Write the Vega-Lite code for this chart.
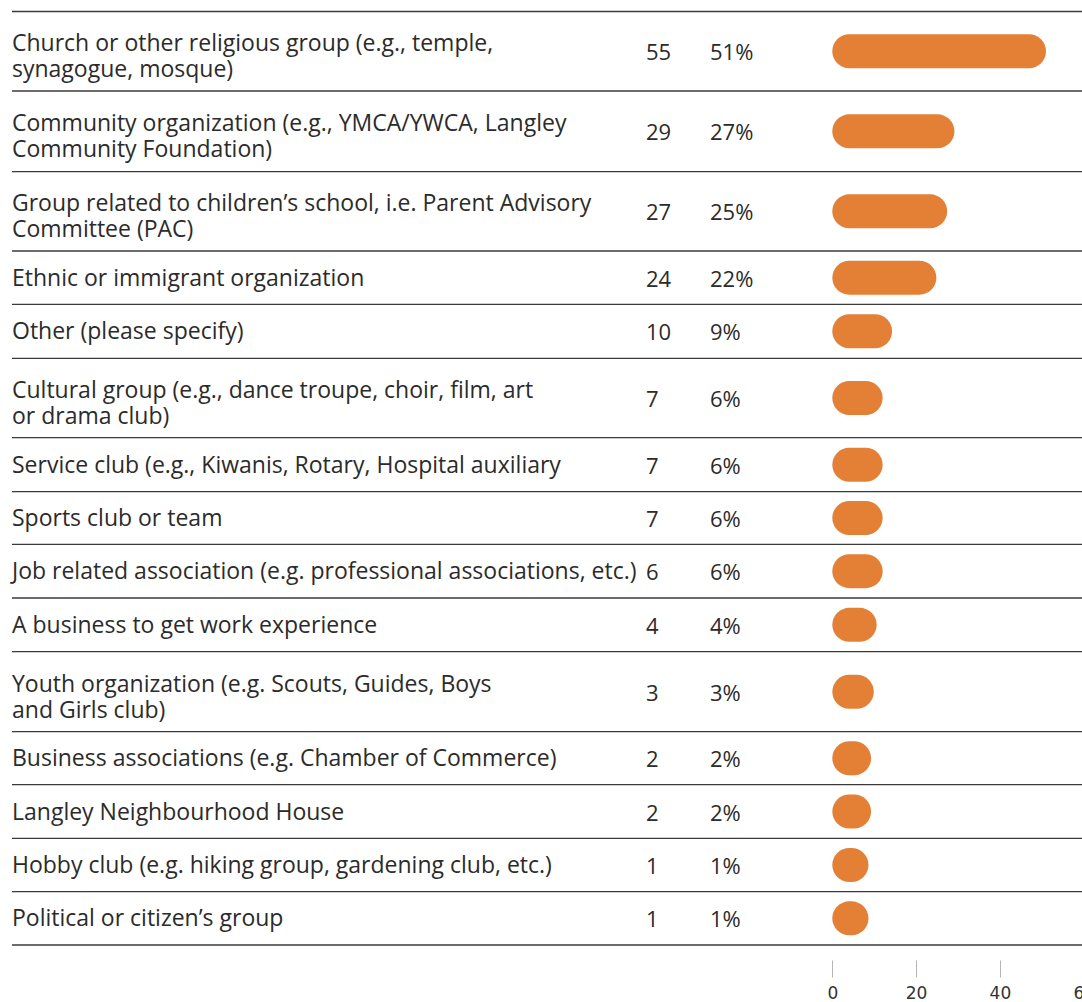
{
  "$schema": "https://vega.github.io/schema/vega-lite/v6.json",
  "width": 1070,
  "height": 960,
  "padding": {"left": 12, "top": 0, "right": 0, "bottom": 42},
  "autosize": {"type": "none"},
  "background": "white",
  "config": {"view": {"stroke": null}, "font": "Open Sans"},
  "data": {
    "values": [
      {"rank": 1, "label": "Church or other religious group (e.g., temple,\nsynagogue, mosque)", "count": 55, "share": 0.51},
      {"rank": 2, "label": "Community organization (e.g., YMCA/YWCA, Langley\nCommunity Foundation)", "count": 29, "share": 0.27},
      {"rank": 3, "label": "Group related to children’s school, i.e. Parent Advisory\nCommittee (PAC)", "count": 27, "share": 0.25},
      {"rank": 4, "label": "Ethnic or immigrant organization", "count": 24, "share": 0.22},
      {"rank": 5, "label": "Other (please specify)", "count": 10, "share": 0.09},
      {"rank": 6, "label": "Cultural group (e.g., dance troupe, choir, film, art\nor drama club)", "count": 7, "share": 0.06},
      {"rank": 7, "label": "Service club (e.g., Kiwanis, Rotary, Hospital auxiliary", "count": 7, "share": 0.06},
      {"rank": 8, "label": "Sports club or team", "count": 7, "share": 0.06},
      {"rank": 9, "label": "Job related association (e.g. professional associations, etc.)", "count": 6, "share": 0.06},
      {"rank": 10, "label": "A business to get work experience", "count": 4, "share": 0.04},
      {"rank": 11, "label": "Youth organization (e.g. Scouts, Guides, Boys\nand Girls club)", "count": 3, "share": 0.03},
      {"rank": 12, "label": "Business associations (e.g. Chamber of Commerce)", "count": 2, "share": 0.02},
      {"rank": 13, "label": "Langley Neighbourhood House", "count": 2, "share": 0.02},
      {"rank": 14, "label": "Hobby club (e.g. hiking group, gardening club, etc.)", "count": 1, "share": 0.01},
      {"rank": 15, "label": "Political or citizen’s group", "count": 1, "share": 0.01}
    ]
  },
  "layer": [
    {
      "mark": {"type": "rule", "color": "#3a3a3a", "strokeWidth": 1.3},
      "encoding": {
        "y": {
          "field": "rank", "type": "quantitative",
          "scale": {
            "domain": [1, 2, 3, 4, 5, 6, 7, 8, 9, 10, 11, 12, 13, 14, 15, 16],
            "range": [11.5, 91, 171.7, 251, 304.3, 358.3, 437.7, 491.7, 544.3, 598, 651.7, 731.7, 784.7, 838.3, 891.7, 945],
            "nice": false, "zero": false
          },
          "axis": null
        }
      }
    },
    {
      "transform": [{"filter": "datum.rank == 15"}],
      "mark": {"type": "rule", "color": "#3a3a3a", "strokeWidth": 1.3},
      "encoding": {
        "y": {
          "field": "rank", "type": "quantitative",
          "scale": {
            "domain": [0, 1, 2, 3, 4, 5, 6, 7, 8, 9, 10, 11, 12, 13, 14, 15],
            "range": [11.5, 91, 171.7, 251, 304.3, 358.3, 437.7, 491.7, 544.3, 598, 651.7, 731.7, 784.7, 838.3, 891.7, 945],
            "nice": false, "zero": false
          },
          "axis": null
        }
      }
    },
    {
      "encoding": {
        "y": {
          "field": "rank", "type": "quantitative",
          "scale": {
            "domain": [0.5, 1.5, 2.5, 3.5, 4.5, 5.5, 6.5, 7.5, 8.5, 9.5, 10.5, 11.5, 12.5, 13.5, 14.5, 15.5],
            "range": [11.5, 91, 171.7, 251, 304.3, 358.3, 437.7, 491.7, 544.3, 598, 651.7, 731.7, 784.7, 838.3, 891.7, 945],
            "nice": false, "zero": false
          },
          "axis": null
        }
      },
      "layer": [
        {
          "transform": [{"filter": "indexof(datum.label, '\\n') >= 0"}],
          "mark": {"type": "text", "align": "left", "baseline": "middle", "fontSize": 23, "color": "#2b2b2b", "lineBreak": "\n", "lineHeight": 26, "dy": -7},
          "encoding": {"x": {"value": 0}, "text": {"field": "label", "type": "nominal"}}
        },
        {
          "transform": [{"filter": "indexof(datum.label, '\\n') < 0"}],
          "mark": {"type": "text", "align": "left", "baseline": "middle", "fontSize": 23, "color": "#2b2b2b", "dy": 1},
          "encoding": {"x": {"value": 0}, "text": {"field": "label", "type": "nominal"}}
        },
        {
          "mark": {"type": "text", "align": "left", "baseline": "middle", "fontSize": 22, "color": "#2b2b2b", "dy": 2},
          "encoding": {"x": {"value": 634}, "text": {"field": "count", "type": "quantitative", "format": "d"}}
        },
        {
          "mark": {"type": "text", "align": "left", "baseline": "middle", "fontSize": 22, "color": "#2b2b2b", "dy": 2},
          "encoding": {"x": {"value": 698}, "text": {"field": "share", "type": "quantitative", "format": ".0%"}}
        },
        {
          "mark": {"type": "rule", "strokeCap": "round", "strokeWidth": 34, "color": "#e38036"},
          "encoding": {
            "x": {"field": "share", "type": "quantitative", "scale": {"type": "pow", "exponent": 1.12, "domain": [0, 0.51], "range": [837.3, 1017], "nice": false, "zero": false}, "axis": null},
            "x2": {"datum": 0}
          }
        }
      ]
    },
    {
      "mark": {"type": "point", "opacity": 0},
      "encoding": {
        "x": {
          "field": "count", "type": "quantitative",
          "scale": {"domain": [0, 60], "range": [820.3, 1071.7], "nice": false, "zero": false},
          "axis": {"values": [0, 20, 40, 60], "orient": "bottom", "domain": false, "grid": false, "title": null, "tickColor": "#b5b5b5", "tickSize": 17, "tickWidth": 1, "labelFont": "DejaVu Sans", "labelFontSize": 17, "labelColor": "#333333", "labelPadding": 8, "labelFlush": false, "labelOverlap": false, "labelBound": false}
        }
      }
    }
  ],
  "resolve": {"scale": {"x": "independent", "y": "independent"}}
}
